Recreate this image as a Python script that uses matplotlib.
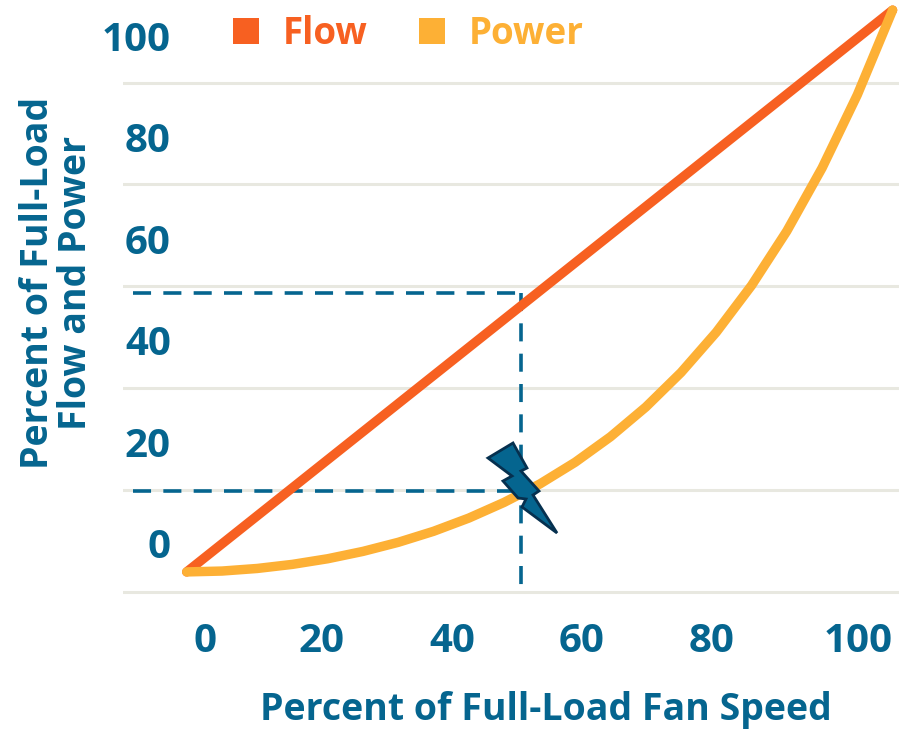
import matplotlib
matplotlib.use("Agg")
import matplotlib.pyplot as plt
from matplotlib.lines import Line2D
from matplotlib.patches import Polygon

plt.rcParams['font.family'] = ['Open Sans', 'DejaVu Sans']

BLUE = '#05658F'
ORANGE = '#F76021'
YELLOW = '#FDB035'
GRID = '#E8E8E0'

x_tick_labels = ['0', '20', '40', '60', '80', '100']
x_tick_pos = [0, 17.9, 37.8, 57.7, 77.6, 100]
y_ticks = [0, 20, 40, 60, 80, 100]
grid_levels = [-9.7, 10.5, 30.6, 50.7, 70.8, 90.7]

flow_x = [-2.8, 105.3]
flow_y = [-5.7, 105.1]
power_x = [-2.8, 2.6, 8.0, 13.4, 18.8, 24.2, 29.6, 35.0, 40.4, 45.8, 51.3,
           56.7, 62.1, 67.5, 72.9, 78.3, 83.7, 89.1, 94.5, 99.9, 105.3]
power_y = [-5.7, -5.53, -5.02, -4.21, -3.10, -1.65, 0.14, 2.31, 4.92, 8.01, 11.66,
           15.94, 20.96, 26.81, 33.63, 41.58, 50.80, 61.52, 73.97, 88.40, 105.1]

guide_x = 48.4
guide_flow = 49.3
guide_power = 10.3
guide_left = -11.0

bolt_px = [(488, 458), (513, 443), (527, 468), (521, 471), (539, 491), (533, 495),
           (557, 533), (522, 507), (526, 499), (518, 498), (503, 481), (512, 476)]

fig = plt.figure(figsize=(8.99, 7.30), dpi=100)
ax = fig.add_axes([123 / 899, 130 / 730, 776 / 899, 600 / 730])
ax.set_xlim(-12.56, 106.28)
ax.set_ylim(-11.24, 107.1)

for s in ax.spines.values():
    s.set_visible(False)

for lvl in grid_levels:
    ax.axhline(lvl, color=GRID, lw=2.2, zorder=1)

dash = dict(color=BLUE, lw=2.6, linestyle=(0, (5, 3.4)), zorder=2)
ax.plot([guide_left, guide_x], [guide_flow, guide_flow], **dash)
ax.plot([guide_left, guide_x], [guide_power, guide_power], **dash)
ax.plot([guide_x, guide_x], [guide_flow, grid_levels[0]], **dash)

ax.plot(flow_x, flow_y, color=ORANGE, lw=6.8, solid_capstyle='round', zorder=3, clip_on=False)
ax.plot(power_x, power_y, color=YELLOW, lw=6.8, solid_capstyle='round', solid_joinstyle='round', zorder=4, clip_on=False)

fig.add_artist(Polygon([(x / 899, 1 - y / 730) for x, y in bolt_px], closed=True,
                       transform=fig.transFigure, facecolor=BLUE, edgecolor='#06304F', lw=2, zorder=5))

ax.set_xticks(x_tick_pos, x_tick_labels)
ax.set_yticks(y_ticks)
ax.tick_params(axis='both', length=0, labelsize=29, labelcolor=BLUE)
ax.tick_params(axis='x', pad=16)
ax.tick_params(axis='y', pad=-34.5)
for t in ax.get_xticklabels() + ax.get_yticklabels():
    t.set_fontweight(700)

ax.set_xlabel('Percent of Full-Load Fan Speed', fontsize=27, color=BLUE, fontweight=700)
ax.xaxis.set_label_coords((546 - 123) / 776, (600 - 691) / 600)
ax.set_ylabel('Percent of Full-Load\nFlow and Power', fontsize=27, color=BLUE, fontweight=700,
              linespacing=1.0, ha='center')
ax.yaxis.set_label_coords((95 - 123) / 776, (600 - 283) / 600)

handles = [Line2D([], [], marker='s', ls='', ms=18.5, color=ORANGE, mew=0),
           Line2D([], [], marker='s', ls='', ms=18.5, color=YELLOW, mew=0)]
leg = ax.legend(handles, ['Flow', 'Power'], ncol=2, frameon=False,
                labelcolor=[ORANGE, YELLOW], loc='upper left',
                bbox_to_anchor=((224 - 123) / 776, (600 - 11) / 600), borderaxespad=0, borderpad=0.1,
                handlelength=1, handletextpad=0.5, columnspacing=1.25,
                prop=dict(size=26.5, weight=700))

fig.savefig('out.png', dpi=100)
